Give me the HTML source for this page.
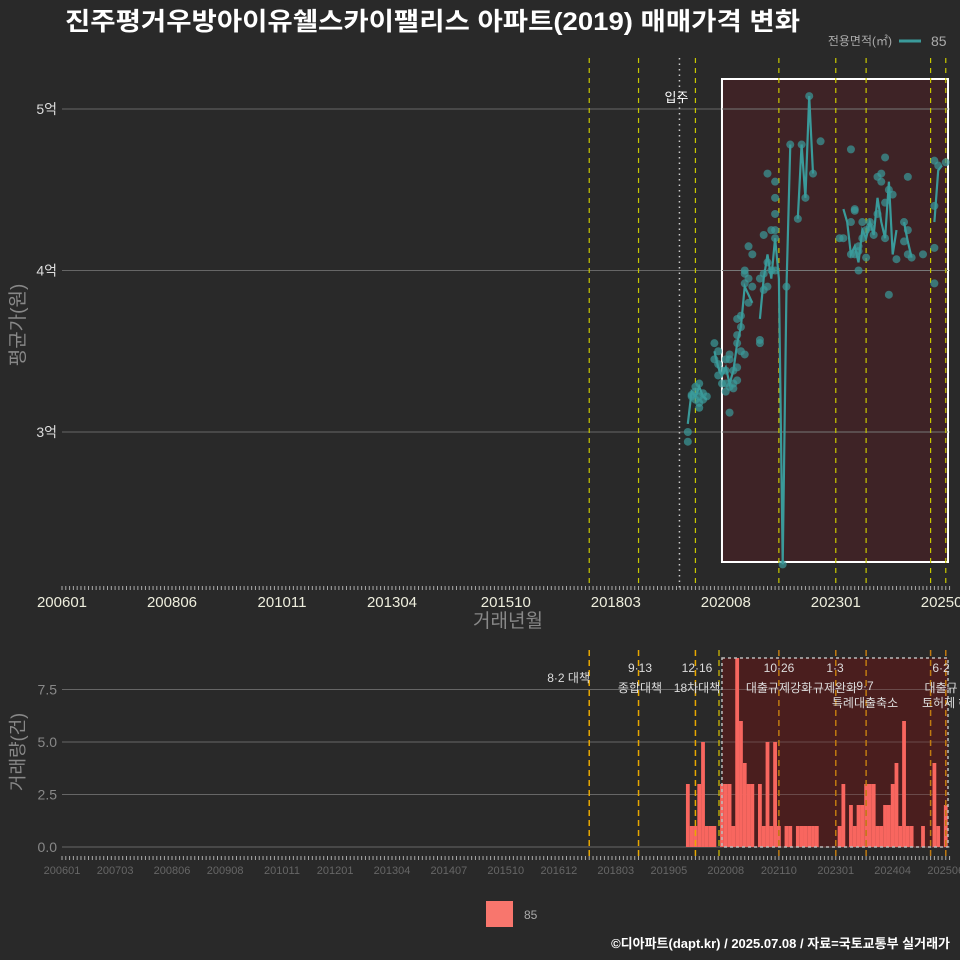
<!DOCTYPE html>
<html><head><meta charset="utf-8"><style>
html,body{margin:0;padding:0;background:#292929;}
svg{display:block;font-family:"Liberation Sans","Noto Sans CJK KR",sans-serif;}
</style></head><body>
<svg id="c" width="960" height="960" viewBox="0 0 960 960" xmlns="http://www.w3.org/2000/svg">
<rect width="960" height="960" fill="#292929"/>
<text x="65" y="30" fill="#fff" font-size="25" font-weight="bold" textLength="735" lengthAdjust="spacingAndGlyphs">진주평거우방아이유쉘스카이팰리스 아파트(2019) 매매가격 변화</text>
<g>
<text x="892" y="45" fill="#aaa" font-size="12" text-anchor="end">전용면적(㎡)</text>
<line x1="899" y1="41" x2="921" y2="41" stroke="#3a9a9a" stroke-width="3"/>
<text x="931" y="46" fill="#aaa" font-size="14">85</text>
</g>
<g id="topg"></g>
<g id="botg"></g>
<text x="0" y="0" transform="translate(24,325) rotate(-90)" fill="#888" font-size="19" text-anchor="middle">평균가(원)</text>
<text x="508" y="627" fill="#888" font-size="19" text-anchor="middle">거래년월</text>
<text x="0" y="0" transform="translate(24,752) rotate(-90)" fill="#888" font-size="18" text-anchor="middle">거래량(건)</text>
<rect x="486" y="901" width="27" height="26" fill="#f8766d"/>
<text x="524" y="919" fill="#aaa" font-size="12">85</text>
<text x="950" y="948" fill="#fff" font-size="13" font-weight="bold" text-anchor="end">©디아파트(dapt.kr) / 2025.07.08 / 자료=국토교통부 실거래가</text>
</svg>
<script>
const topTickLabels=["200601","200806","201011","201304","201510","201803","202008","202301","202506"];
const botTickLabels=["200601","200703","200806","200908","201011","201201","201304","201407","201510","201612","201803","201905","202008","202110","202301","202404","202506"];
const priceTicks=[3,4,5];
const volTicks=[0,2.5,5,7.5];
const policyMonths=["201708","201809","201912","202110","202301","202309","202502","202506"];
const moveInMonth="201907";
const pointMonths=["201910","201910","201911","201911","201912","201912","201912","202001","202001","202001","202001","202002","202002","202003","202005","202005","202006","202006","202006","202007","202007","202008","202008","202008","202008","202009","202009","202009","202009","202010","202010","202010","202011","202011","202011","202011","202011","202012","202012","202012","202101","202101","202101","202101","202102","202102","202102","202103","202103","202105","202105","202105","202106","202106","202106","202107","202107","202107","202108","202108","202109","202109","202109","202109","202109","202109","202111","202112","202201","202203","202204","202205","202206","202207","202209","202302","202303","202305","202305","202305","202306","202306","202306","202307","202307","202307","202308","202308","202309","202309","202310","202310","202311","202312","202312","202401","202401","202402","202402","202402","202403","202403","202404","202405","202407","202407","202408","202408","202408","202409","202412","202503","202503","202503","202503","202504","202506"];
const pointValues=[3.0,2.94,3.22,3.23,3.25,3.28,3.2,3.22,3.3,3.18,3.15,3.24,3.2,3.22,3.45,3.55,3.35,3.42,3.5,3.3,3.38,3.38,3.45,3.25,3.3,3.12,3.45,3.28,3.48,3.3,3.38,3.27,3.6,3.7,3.55,3.4,3.32,3.65,3.72,3.5,3.98,4.0,3.92,3.48,4.15,3.95,3.8,4.1,3.9,3.95,3.55,3.57,4.22,3.98,3.88,4.6,4.05,3.9,4.0,4.25,4.55,4.45,4.35,4.25,4.2,4.0,2.18,3.9,4.78,4.32,4.78,4.45,5.08,4.6,4.8,4.2,4.2,4.75,4.3,4.1,4.37,4.38,4.1,4.0,4.12,4.15,4.2,4.3,4.25,4.08,4.3,4.27,4.22,4.35,4.58,4.55,4.6,4.7,4.42,4.2,3.85,4.5,4.47,4.07,4.3,4.18,4.25,4.1,4.58,4.08,4.1,4.14,3.92,4.4,4.68,4.65,4.67];
const lineMonths=["201910","201911","201912","202001","202002","202003","202004","202005","202006","202007","202008","202009","202010","202011","202012","202101","202102","202103","202104","202105","202106","202107","202108","202109","202110","202111","202112","202201","202202","202203","202204","202205","202206","202207","202208","202303","202304","202305","202306","202307","202308","202309","202310","202311","202312","202401","202402","202403","202404","202405","202406","202407","202408","202409","202410","202503","202504","202505"];
const lineValues=[3.05,3.25,3.22,3.28,3.22,3.2,null,3.5,3.4,3.35,3.4,3.3,3.38,3.55,3.65,3.9,3.85,3.8,null,3.7,3.95,4.1,3.95,4.2,3.95,2.18,3.9,4.78,null,4.32,4.78,4.45,5.08,4.6,null,4.38,4.3,4.1,4.15,4.05,4.25,4.2,4.3,4.22,4.45,4.3,4.2,4.55,4.1,4.25,null,4.3,4.18,4.08,null,4.3,4.62,4.65];
const barMonths=["201910","201911","201912","202001","202002","202003","202004","202005","202007","202008","202009","202010","202011","202012","202101","202102","202103","202105","202106","202107","202108","202109","202110","202112","202201","202203","202204","202205","202206","202207","202208","202302","202303","202305","202306","202307","202308","202309","202310","202311","202312","202401","202402","202403","202404","202405","202406","202407","202408","202409","202412","202503","202504","202506"];
const barValues=[3,1,1,3,5,1,1,1,3,3,3,1,9,6,4,3,3,3,1,5,1,5,1,1,1,1,1,1,1,1,1,1,3,2,1,2,2,3,3,3,1,1,2,2,3,4,1,6,1,1,1,4,1,2];

const NS="http://www.w3.org/2000/svg";
function mi(s){return (parseInt(s.slice(0,4))-2006)*12+parseInt(s.slice(4,6))-1;}
function X(s){return 62+3.793*mi(s);}
function Yp(v){return 109+(5-v)*161.5;}
function Yv(v){return 847-v*21;}
function mk(tag,attrs,parent){const e=document.createElementNS(NS,tag);for(const k in attrs)e.setAttribute(k,attrs[k]);parent.appendChild(e);return e;}
const topG=document.getElementById('topg'),botG=document.getElementById('botg');

priceTicks.forEach(v=>{
 const g=mk('line',{x1:62,x2:950,y1:Yp(v),y2:Yp(v),stroke:'#666','stroke-width':1},topG);
 
 
 const t=mk('text',{x:57,y:Yp(v)+5,fill:'#ddd','font-size':14,'text-anchor':'end'},topG);
 t.textContent=v+'억';
 
 
});
const r1=mk('rect',{x:X("202007"),y:79,width:948-X("202007"),height:483,fill:'#3e2326',stroke:'#fff','stroke-width':2},topG);


priceTicks.forEach(v=>{const g=mk('line',{x1:X("202007"),x2:948,y1:Yp(v),y2:Yp(v),stroke:'#777','stroke-width':1},topG);
 
 });
policyMonths.forEach(m=>{
 const l=mk('line',{x1:X(m),x2:X(m),y1:58,y2:588,stroke:'#c8c800','stroke-width':1.2,'stroke-dasharray':'5 5'},topG);
 
 
});
const mv=mk('line',{x1:X(moveInMonth)+3,x2:X(moveInMonth)+3,y1:58,y2:588,stroke:'#ccc','stroke-width':1.5,'stroke-dasharray':'1.5 4'},topG);


const mvt=mk('text',{x:X(moveInMonth)+12,y:102,fill:'#fff','font-size':13,'text-anchor':'end'},topG);
mvt.textContent='입주';


let d='',pen=false;
lineMonths.forEach((m,i)=>{const v=lineValues[i];if(v===null){pen=false;return;}d+=(pen?'L':'M')+X(m).toFixed(1)+' '+Yp(v).toFixed(1);pen=true;});
const pl=mk('path',{d:d,fill:'none',stroke:'#3a9a9a','stroke-width':2.2},topG);


pointMonths.forEach((m,i)=>{
 const c=mk('circle',{cx:X(m),cy:Yp(pointValues[i]),r:4,fill:'#3a9a9a','fill-opacity':0.7},topG);
 
 
});
for(let m=0;m<=234;m++){const x=62+3.793*m;mk('line',{x1:x,x2:x,y1:586,y2:590,stroke:'#aaa','stroke-width':1},topG);}
topTickLabels.forEach(s=>{
 const t=mk('text',{x:X(s),y:607,fill:'#eed','font-size':15,'text-anchor':'middle'},topG);
 t.textContent=s;
 
 
});

volTicks.forEach(v=>{
 const g=mk('line',{x1:62,x2:950,y1:Yv(v),y2:Yv(v),stroke:'#666','stroke-width':1},botG);
 
 
 const t=mk('text',{x:57,y:Yv(v)+5,fill:'#888','font-size':14,'text-anchor':'end'},botG);
 t.textContent=v.toFixed(1);
 
 
});
const r2=mk('rect',{x:X("202007"),y:658,width:948-X("202007"),height:189,fill:'#4a1e1e'},botG);


volTicks.forEach(v=>{const g=mk('line',{x1:X("202007"),x2:948,y1:Yv(v),y2:Yv(v),stroke:'#6a4a4a','stroke-width':1},botG);
 
 });
barMonths.forEach((m,i)=>{
 const b=mk('rect',{x:X(m)-1.9,y:Yv(barValues[i]),width:3.8,height:barValues[i]*21,fill:'#f8665f'},botG);
 
 
});
const r3=mk('rect',{x:X("202007"),y:658,width:948-X("202007"),height:189,fill:'none',stroke:'#bbb','stroke-width':1.5,'stroke-dasharray':'3 3'},botG);


policyMonths.forEach((m,i)=>{
 const l=mk('line',{x1:X(m),x2:X(m),y1:650,y2:858,stroke:i<3?'#e8a800':'#c07a10','stroke-width':1.5,'stroke-dasharray':'6 4'},botG);
 
 
});
const ml=mk('line',{x1:719,x2:719,y1:650,y2:858,stroke:'#d8c000','stroke-width':1.2,'stroke-dasharray':'6 4'},botG);


const labels=[[590,682,'8·2 대책','end'],[640,672,'9·13','middle'],[640,692,'종합대책','middle'],[697,672,'12·16','middle'],[697,692,'18차대책','middle'],[779,672,'10·26','middle'],[779,692,'대출규제강화','middle'],[835,672,'1·3','middle'],[835,692,'규제완화','middle'],[865,690,'9·7','middle'],[865,707,'특례대출축소','middle'],[941,672,'6·2','middle'],[941,692,'대출규','middle'],[922,707,'토허제 해제','start']];
labels.forEach(a=>{
 const t=mk('text',{x:a[0],y:a[1],fill:'#ddd','font-size':12,'text-anchor':a[3]},botG);
 t.textContent=a[2];
 
 
});
for(let m=0;m<=234;m++){const x=62+3.793*m;mk('line',{x1:x,x2:x,y1:856,y2:860,stroke:'#aaa','stroke-width':1},botG);}
botTickLabels.forEach(s=>{
 const t=mk('text',{x:X(s),y:874,fill:'#666','font-size':11,'text-anchor':'middle'},botG);
 t.textContent=s;
 
 
});
</script>
</body></html>
